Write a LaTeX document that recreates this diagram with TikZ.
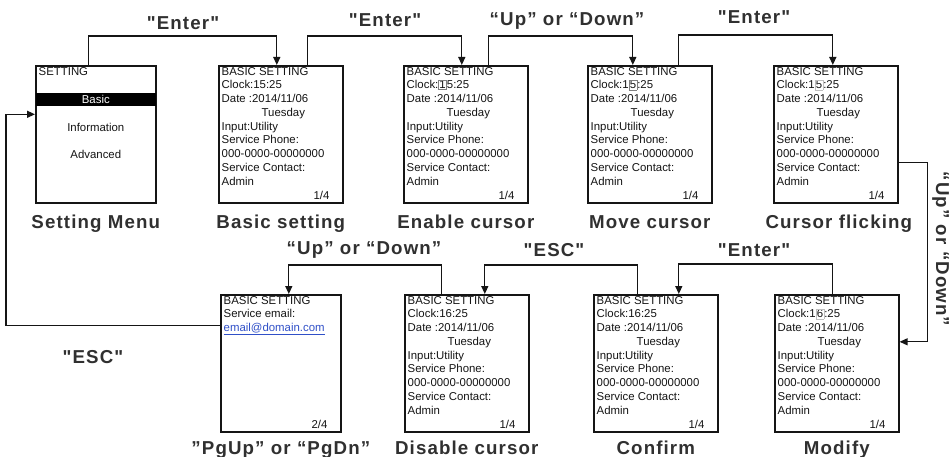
\documentclass[tikz,border=0pt]{standalone}
\usepackage{fontspec}
\setmainfont{Liberation Sans}
\newfontfamily\capfont[LetterSpace=6,Ligatures=TeXOff]{Liberation Sans}
\usetikzlibrary{arrows.meta,positioning}
\definecolor{ink}{HTML}{151515}
\definecolor{capgray}{HTML}{303030}
\definecolor{linkblue}{HTML}{3050C8}
\newcommand\curbox[2][gray]{{\setlength\fboxsep{0.5pt}\setlength\fboxrule{0.6pt}\fcolorbox{#1}{white}{#2}}}
\newcommand\basiclines[1]{BASIC SETTING\\Clock:#1\\Date :2014/11/06\\\hspace*{40pt}Tuesday\\Input:Utility\\Service Phone:\\000-0000-00000000\\Service Contact:\\Admin}

\begin{document}
\begin{tikzpicture}[x=1pt, y=1pt,
  scr/.style={draw=ink, line width=1.6pt, anchor=north west, minimum width=124pt,
              minimum height=137pt, inner sep=0},
  lines/.style={anchor=north west, align=left, inner sep=0, text=ink,
                font=\fontsize{11.4}{13.75}\selectfont},
  pg/.style={anchor=base east, inner sep=0, text=ink, font=\fontsize{11.4}{13.75}\selectfont},
  item/.style={inner sep=0, text=ink, font=\fontsize{11.4}{13.75}\selectfont},
  menubar/.style={item, fill=black, text=white, minimum width=120pt, minimum height=13pt},
  captxt/.style={inner sep=0, text=capgray, font=\capfont\bfseries\fontsize{18.7}{22}\selectfont},
  arr/.style={draw=ink, line width=1.3pt, -{Triangle[length=8pt,width=7pt]}}
]
\path[use as bounding box, fill=white] (0,0) rectangle (952,-457);

\node[scr, minimum width=120pt] (menu) at (35,-65) {};
\node[scr] (basic)  at (218,-65) {};
\node[scr] (enable) at (403,-65) {};
\node[scr] (move)   at (587,-65) {};
\node[scr] (flick)  at (773,-65) {};
\node[scr, minimum width=120pt] (pgup) at (220,-294) {};
\node[scr] (disable) at (404,-294) {};
\node[scr] (confirm) at (593,-294) {};
\node[scr] (modify)  at (774,-294) {};

\node[lines] (tmenu) at ([xshift=3.5pt,yshift=-2pt]menu.north west) {SETTING};
\node[menubar] (mbar) at ([yshift=-34.5pt]menu.north) {Basic};
\node[item] (minfo) at ([yshift=-62pt]menu.north) {Information};
\node[item] (madv) at ([yshift=-89pt]menu.north) {Advanced};

\node[lines] (tbasic)   at ([xshift=3.5pt,yshift=-2pt]basic.north west)   {\basiclines{15:25}};
\node[lines] (tenable)  at ([xshift=3.5pt,yshift=-2pt]enable.north west)  {\basiclines{\curbox{1}5:25}};
\node[lines] (tmove)    at ([xshift=3.5pt,yshift=-2pt]move.north west)    {\basiclines{1\curbox{5}:25}};
\node[lines] (tflick)   at ([xshift=3.5pt,yshift=-2pt]flick.north west)   {\basiclines{1\curbox[lightgray]{5}:25}};
\node[lines] (tpgup)    at ([xshift=3.5pt,yshift=-2pt]pgup.north west)
  {BASIC SETTING\\Service email:\\\textcolor{linkblue}{\underline{email@domain.com}}};
\node[lines] (tdisable) at ([xshift=3.5pt,yshift=-2pt]disable.north west) {\basiclines{16:25}};
\node[lines] (tconfirm) at ([xshift=3.5pt,yshift=-2pt]confirm.north west) {\basiclines{16:25}};
\node[lines] (tmodify)  at ([xshift=3.5pt,yshift=-2pt]modify.north west)  {\basiclines{1\curbox[lightgray]{6}:25}};

\node[pg] (pbasic)   at ([xshift=-14pt,yshift=4.5pt]basic.south east)   {1/4};
\node[pg] (penable)  at ([xshift=-14pt,yshift=4.5pt]enable.south east)  {1/4};
\node[pg] (pmove)    at ([xshift=-14pt,yshift=4.5pt]move.south east)    {1/4};
\node[pg] (pflick)   at ([xshift=-14pt,yshift=4.5pt]flick.south east)   {1/4};
\node[pg] (ppgup)    at ([xshift=-14pt,yshift=4.5pt]pgup.south east)    {2/4};
\node[pg] (pdisable) at ([xshift=-14pt,yshift=4.5pt]disable.south east) {1/4};
\node[pg] (pconfirm) at ([xshift=-14pt,yshift=4.5pt]confirm.south east) {1/4};
\node[pg] (pmodify)  at ([xshift=-14pt,yshift=4.5pt]modify.south east)  {1/4};

\node[captxt, anchor=base] (cmenu)    at ([yshift=-25pt]menu.south)    {Setting Menu};
\node[captxt, anchor=base] (cbasic)   at ([yshift=-25pt]basic.south)   {Basic setting};
\node[captxt, anchor=base] (cenable)  at ([yshift=-25pt]enable.south)  {Enable cursor};
\node[captxt, anchor=base] (cmove)    at ([yshift=-25pt]move.south)    {Move cursor};
\node[captxt, anchor=base] (cflick)   at ([xshift=3pt,yshift=-25pt]flick.south) {Cursor flicking};
\node[captxt, anchor=base] (cpgup)    at ([yshift=-21.5pt]pgup.south)    {”PgUp” or “PgDn”};
\node[captxt, anchor=base] (cdisable) at ([yshift=-21.5pt]disable.south) {Disable cursor};
\node[captxt, anchor=base] (cconfirm) at ([yshift=-21.5pt]confirm.south) {Confirm};
\node[captxt, anchor=base] (cmodify)  at ([yshift=-21.5pt]modify.south)  {Modify};

\draw[arr] ([xshift=-7pt]menu.north) -- ++(0,29) -| ([xshift=-4pt]basic.north);
\draw[arr] ([xshift=27pt]basic.north) -- ++(0,29) -| ([xshift=-4pt]enable.north);
\draw[arr] ([xshift=23pt]enable.north) -- ++(0,29) -| ([xshift=-17pt]move.north);
\draw[arr] ([xshift=29pt]move.north) -- ++(0,30) -| ([xshift=-3pt]flick.north);
\draw[arr] ([yshift=-28.5pt]flick.east) -- ++(29,0) |- ([yshift=21.5pt]modify.east);
\draw[arr] ([xshift=-4.5pt]modify.north) -- ++(0,30) -| ([xshift=23pt]confirm.north);
\draw[arr] ([xshift=-18pt]confirm.north) -- ++(0,29) -| ([xshift=18pt]disable.north);
\draw[arr] ([xshift=-25pt]disable.north) -- ++(0,29) -| ([xshift=8pt]pgup.north);
\draw[arr] ([yshift=38pt]pgup.west) -- ++(-214,0) |- ([yshift=20pt]menu.west);

\node[captxt] (k1) at (183,-23) {"Enter"};
\node[captxt] (k2) at (385,-20) {"Enter"};
\node[captxt] (k3) at (567,-21) {“Up” or “Down”};
\node[captxt] (k4) at (754,-17) {"Enter"};
\node[captxt, rotate=-90] (k5) at (940.5,-249) {“Up” or “Down”};
\node[captxt] (k6) at (754,-250) {"Enter"};
\node[captxt] (k7) at (554,-250) {"ESC"};
\node[captxt] (k8) at (364,-250) {“Up” or “Down”};
\node[captxt] (k9) at (93,-357) {"ESC"};
\end{tikzpicture}
\end{document}
